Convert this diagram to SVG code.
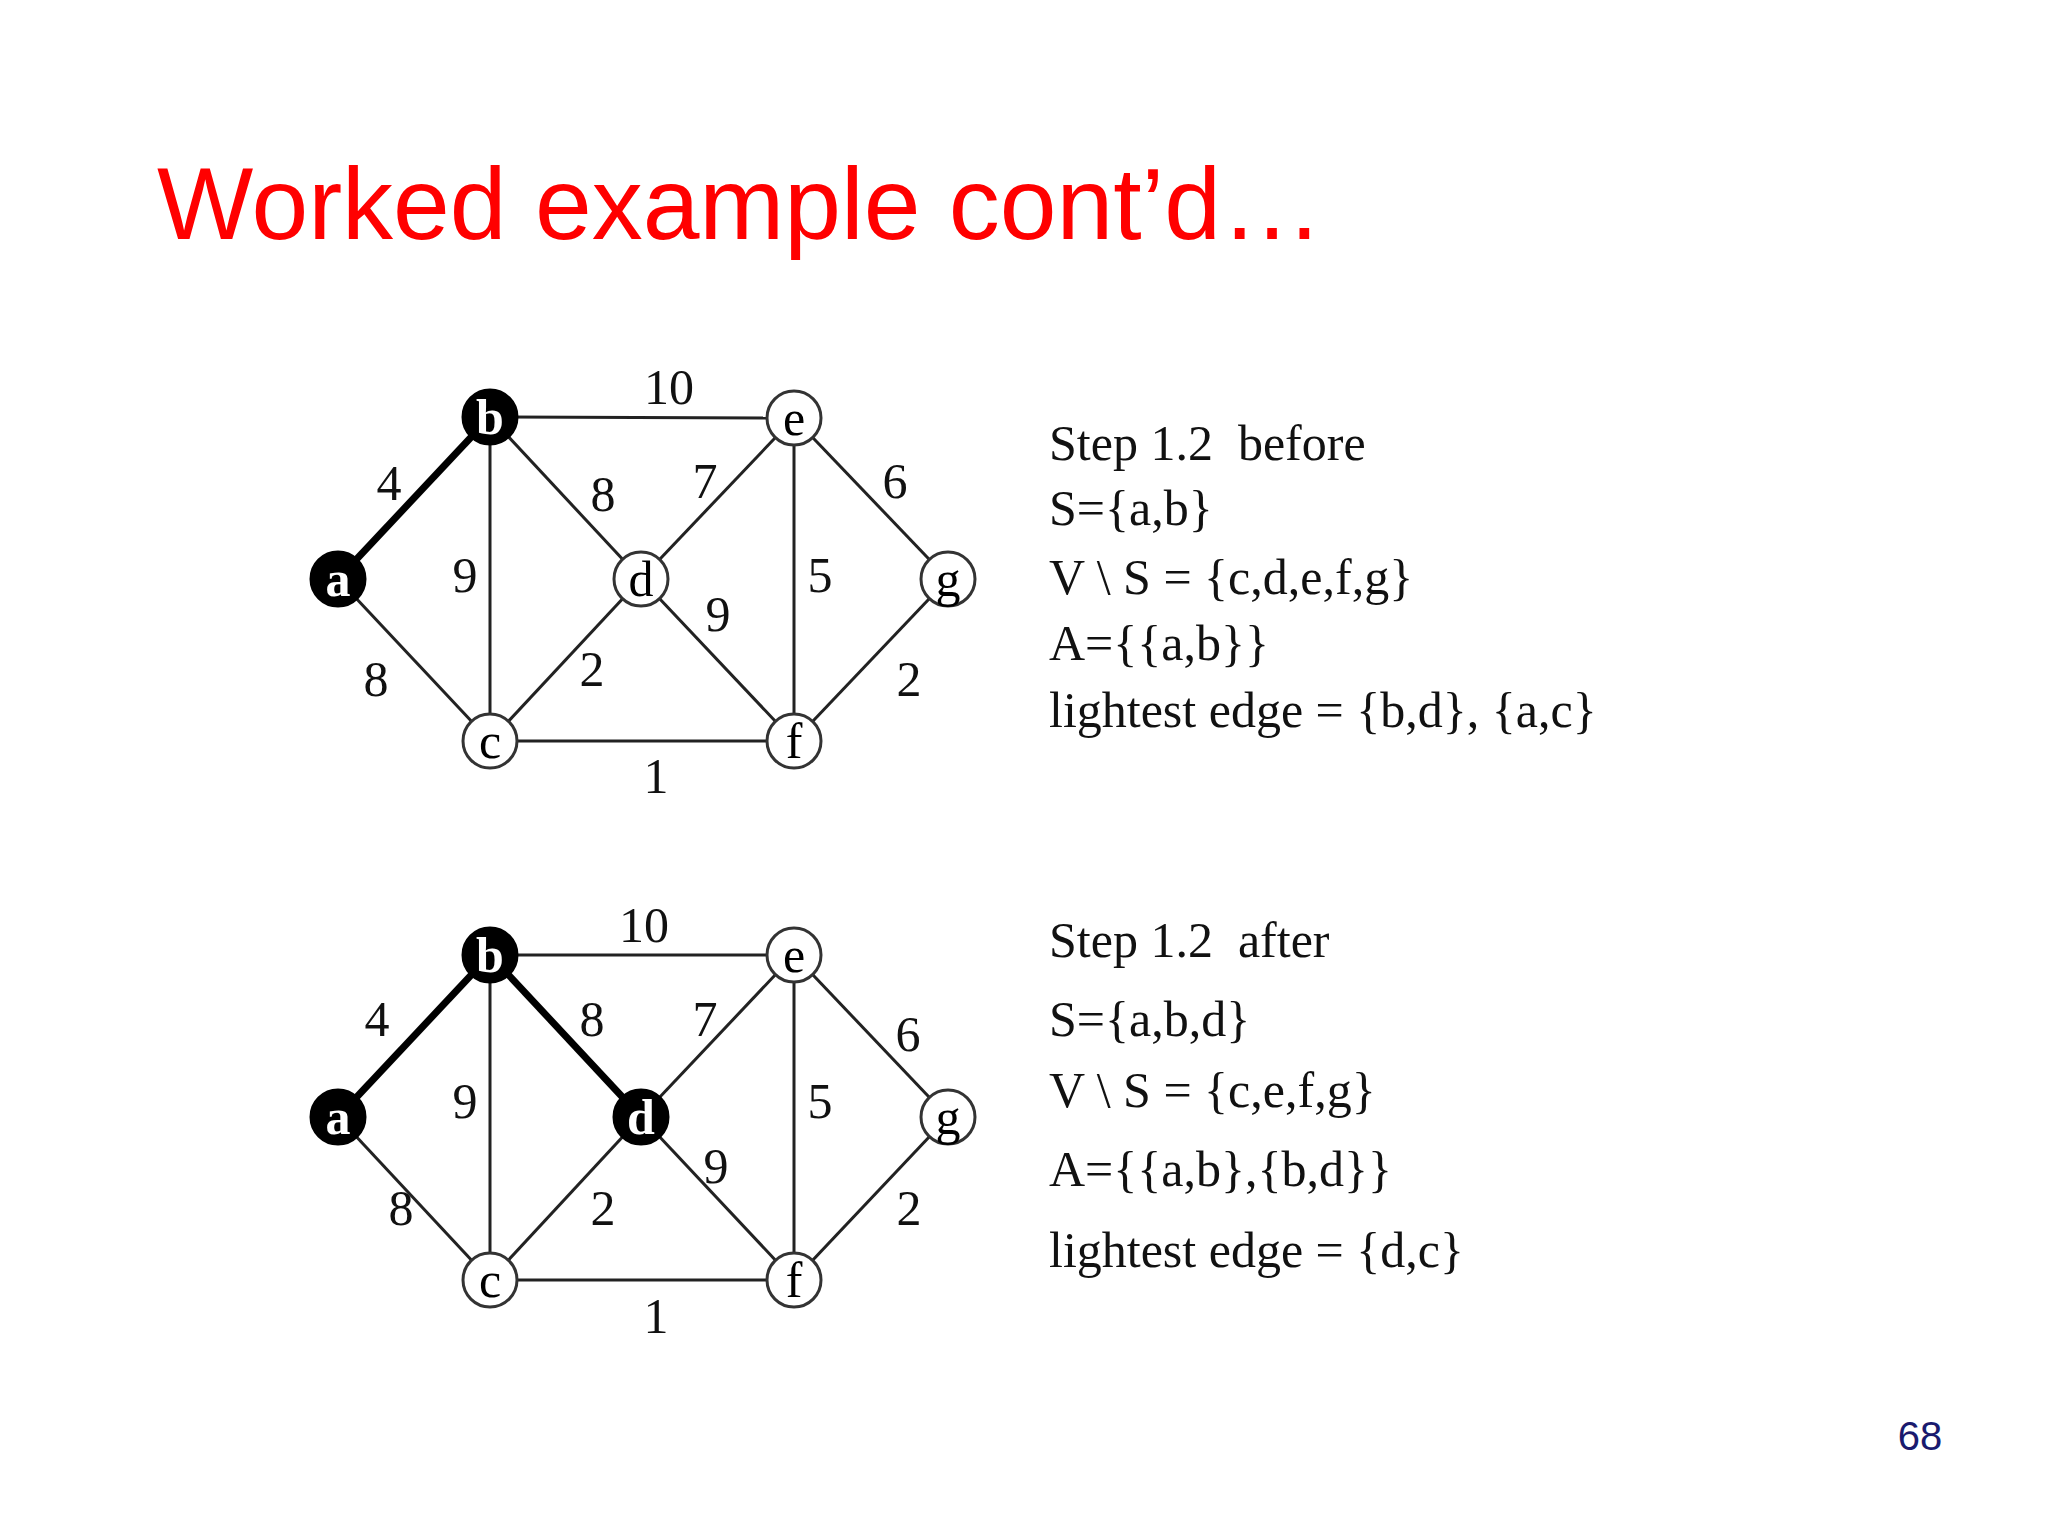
<svg xmlns="http://www.w3.org/2000/svg" width="2048" height="1536" viewBox="0 0 2048 1536">
<style>
.e{stroke:#222;stroke-width:3;fill:none}
.t{stroke:#000;stroke-width:7}
.nw{fill:#fff;stroke:#333;stroke-width:3}
.nb{fill:#000;stroke:#000;stroke-width:3}
.lw{font-family:"Liberation Serif",serif;font-size:50px;fill:#000;text-anchor:middle;dominant-baseline:central}
.lb{font-family:"Liberation Serif",serif;font-size:50px;font-weight:bold;fill:#fff;text-anchor:middle;dominant-baseline:central}
.w{font-family:"Liberation Serif",serif;font-size:50px;fill:#111;text-anchor:middle;dominant-baseline:central}
.s{font-family:"Liberation Serif",serif;font-size:50px;fill:#111;white-space:pre}
</style>
<rect width="2048" height="1536" fill="#fff"/>
<text x="157" y="239" font-family="Liberation Sans,sans-serif" font-size="102" fill="#ff0000">Worked example cont’d…</text>
<text x="1920" y="1450" font-family="Liberation Sans,sans-serif" font-size="40" fill="#1a1a6e" text-anchor="middle">68</text>
<g id="connectors">
<line class="e t" x1="338" y1="579" x2="490" y2="417"/>
<line class="e" x1="490" y1="417" x2="794" y2="418"/>
<line class="e" x1="490" y1="417" x2="641" y2="579"/>
<line class="e" x1="490" y1="417" x2="490" y2="741"/>
<line class="e" x1="338" y1="579" x2="490" y2="741"/>
<line class="e" x1="641" y1="579" x2="794" y2="418"/>
<line class="e" x1="641" y1="579" x2="490" y2="741"/>
<line class="e" x1="641" y1="579" x2="794" y2="741"/>
<line class="e" x1="794" y1="418" x2="794" y2="741"/>
<line class="e" x1="794" y1="418" x2="948" y2="579"/>
<line class="e" x1="948" y1="579" x2="794" y2="741"/>
<line class="e" x1="490" y1="741" x2="794" y2="741"/>
<line class="e t" x1="338" y1="1117" x2="490" y2="955"/>
<line class="e" x1="490" y1="955" x2="794" y2="955"/>
<line class="e t" x1="490" y1="955" x2="641" y2="1117"/>
<line class="e" x1="490" y1="955" x2="490" y2="1280"/>
<line class="e" x1="338" y1="1117" x2="490" y2="1280"/>
<line class="e" x1="641" y1="1117" x2="794" y2="955"/>
<line class="e" x1="641" y1="1117" x2="490" y2="1280"/>
<line class="e" x1="641" y1="1117" x2="794" y2="1280"/>
<line class="e" x1="794" y1="955" x2="794" y2="1280"/>
<line class="e" x1="794" y1="955" x2="948" y2="1117"/>
<line class="e" x1="948" y1="1117" x2="794" y2="1280"/>
<line class="e" x1="490" y1="1280" x2="794" y2="1280"/>
</g>
<g id="weights1">
<text class="w" x="669" y="387">10</text><text class="w" x="389" y="483">4</text><text class="w" x="603" y="494">8</text>
<text class="w" x="705" y="481">7</text><text class="w" x="895" y="481">6</text><text class="w" x="465" y="575">9</text>
<text class="w" x="820" y="575">5</text><text class="w" x="718" y="614">9</text><text class="w" x="376" y="679">8</text>
<text class="w" x="592" y="669">2</text><text class="w" x="909" y="679">2</text><text class="w" x="656" y="776">1</text>
</g>
<g id="weights2">
<text class="w" x="644" y="925">10</text><text class="w" x="377" y="1019">4</text><text class="w" x="592" y="1019">8</text>
<text class="w" x="705" y="1019">7</text><text class="w" x="908" y="1034">6</text><text class="w" x="465" y="1101">9</text>
<text class="w" x="820" y="1101">5</text><text class="w" x="716" y="1166">9</text><text class="w" x="401" y="1208">8</text>
<text class="w" x="603" y="1208">2</text><text class="w" x="909" y="1208">2</text><text class="w" x="656" y="1316">1</text>
</g>
<g id="a1"><circle class="nb" cx="338" cy="579" r="27"/><text class="lb" x="338" y="579">a</text></g>
<g id="b1"><circle class="nb" cx="490" cy="417" r="27"/><text class="lb" x="490" y="417">b</text></g>
<g id="c1"><circle class="nw" cx="490" cy="741" r="27"/><text class="lw" x="490" y="741">c</text></g>
<g id="d1"><circle class="nw" cx="641" cy="579" r="27"/><text class="lw" x="641" y="579">d</text></g>
<g id="e1"><circle class="nw" cx="794" cy="418" r="27"/><text class="lw" x="794" y="418">e</text></g>
<g id="f1"><circle class="nw" cx="794" cy="741" r="27"/><text class="lw" x="794" y="741">f</text></g>
<g id="g1"><circle class="nw" cx="948" cy="579" r="27"/><text class="lw" x="948" y="579">g</text></g>
<g id="a2"><circle class="nb" cx="338" cy="1117" r="27"/><text class="lb" x="338" y="1117">a</text></g>
<g id="b2"><circle class="nb" cx="490" cy="955" r="27"/><text class="lb" x="490" y="955">b</text></g>
<g id="c2"><circle class="nw" cx="490" cy="1280" r="27"/><text class="lw" x="490" y="1280">c</text></g>
<g id="d2"><circle class="nb" cx="641" cy="1117" r="27"/><text class="lb" x="641" y="1117">d</text></g>
<g id="e2"><circle class="nw" cx="794" cy="955" r="27"/><text class="lw" x="794" y="955">e</text></g>
<g id="f2"><circle class="nw" cx="794" cy="1280" r="27"/><text class="lw" x="794" y="1280">f</text></g>
<g id="g2"><circle class="nw" cx="948" cy="1117" r="27"/><text class="lw" x="948" y="1117">g</text></g>
<g id="text1">
<text class="s" x="1049" y="460">Step 1.2  before</text>
<text class="s" x="1049" y="525">S={a,b}</text>
<text class="s" x="1049" y="594">V \ S = {c,d,e,f,g}</text>
<text class="s" x="1049" y="660">A={{a,b}}</text>
<text class="s" x="1049" y="727">lightest edge = {b,d}, {a,c}</text>
</g>
<g id="text2">
<text class="s" x="1049" y="957">Step 1.2  after</text>
<text class="s" x="1049" y="1036">S={a,b,d}</text>
<text class="s" x="1049" y="1107">V \ S = {c,e,f,g}</text>
<text class="s" x="1049" y="1186">A={{a,b},{b,d}}</text>
<text class="s" x="1049" y="1267">lightest edge = {d,c}</text>
</g>
</svg>
